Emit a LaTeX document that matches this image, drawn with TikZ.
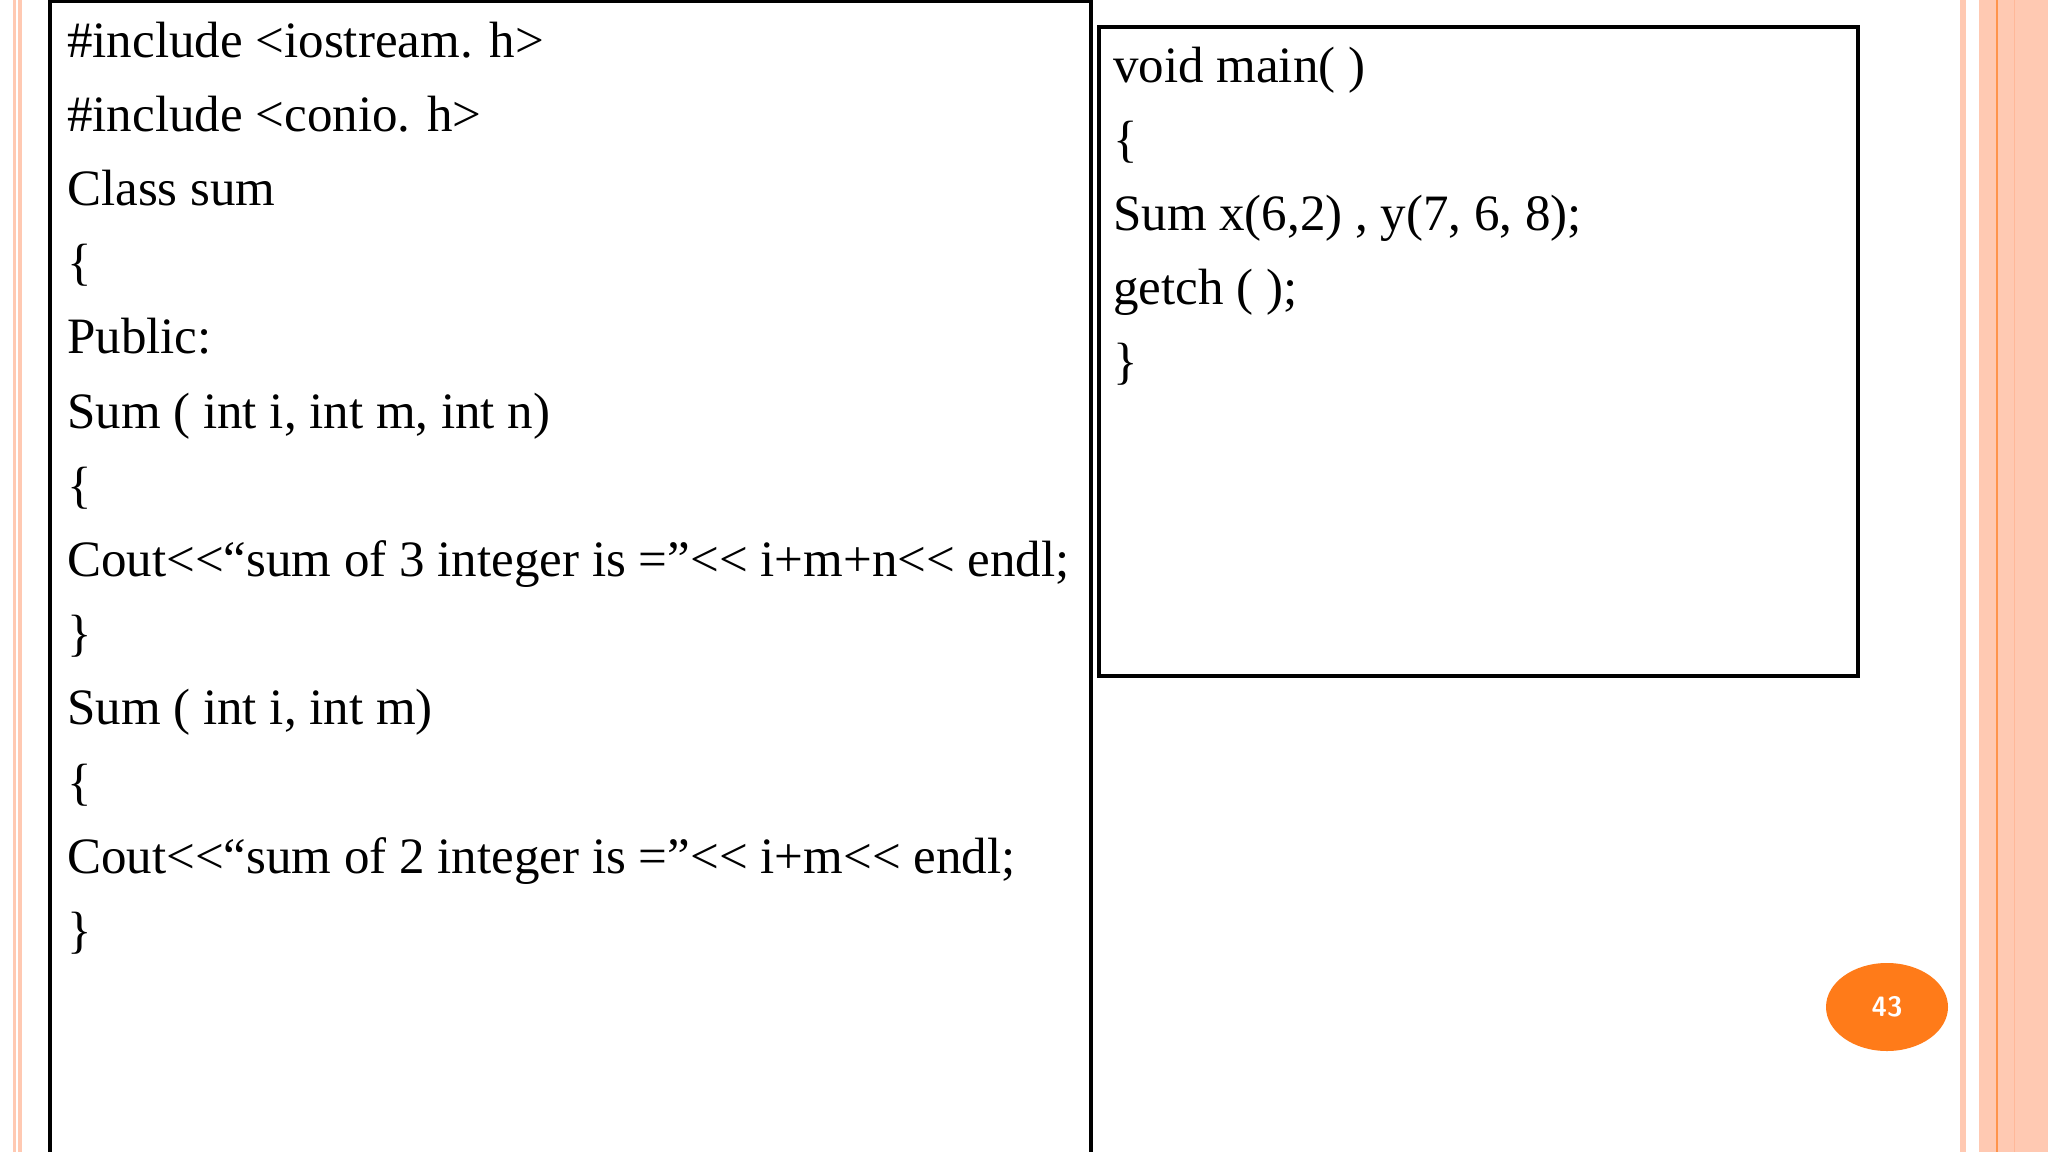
\documentclass[tikz,border=0pt]{standalone}
\usepackage{fontspec}
\setmainfont{Liberation Serif}
\usetikzlibrary{shapes.geometric}
\begin{document}
\begin{tikzpicture}[x=1pt,y=-1pt,
 code/.style={anchor=base west,inner sep=0pt,font=\fontsize{51}{60}\selectfont}]
\useasboundingbox (0,0) rectangle (2048,1152);
\fill[white] (0,0) rectangle (2048,1152);
% left stripes
\fill[red!40!orange!30] (13,0) rectangle (22,1152);
\fill[white] (16,0) rectangle (18,1152);
% right stripes
\fill[red!40!orange!30] (1960,0) rectangle (1966,1152);
\fill[red!40!orange!30] (1979,0) rectangle (2048,1152);
\fill[orange!80!red!70] (1996,0) rectangle (1997.5,1152);
\fill[red!40!orange!40] (2014,0) rectangle (2015,1152);
% boxes
\draw[line width=3.5pt] (50,0) -- (50,1152) (50,1.5) -- (1091,1.5) (1091,0) -- (1091,1152);
\node[draw,line width=3.5pt,minimum width=759,minimum height=649,anchor=north west,inner sep=0pt] (rbox) at (1097,25) {};
\foreach \t [count=\i from 0] in {\#include <iostream. h>,\#include <conio. h>,Class sum,\{,Public:,Sum ( int i{,} int m{,} int n),\{,Cout<{}<“sum of 3 integer is =”<{}< i+m+n<{}< endl;,\},Sum ( int i{,} int m),\{,Cout<{}<“sum of 2 integer is =”<{}< i+m<{}< endl;,\}}
  \node[code] (l\i) at (67,57+74.2*\i) {\t};
\foreach \t [count=\i from 0] in {void main( ),\{,Sum x(6{,}2) {,} y(7{,} 6{,} 8);,getch ( );,\}}
  \node[code] (r\i) at (1113,82+74.2*\i) {\t};
\node[ellipse,fill=orange!85!red!90,minimum width=122,minimum height=88,inner sep=0pt,text=white,font=\fontsize{28}{32}\selectfont\sffamily\bfseries] (pg) at (1887,1007) {43};
\end{tikzpicture}
\end{document}
